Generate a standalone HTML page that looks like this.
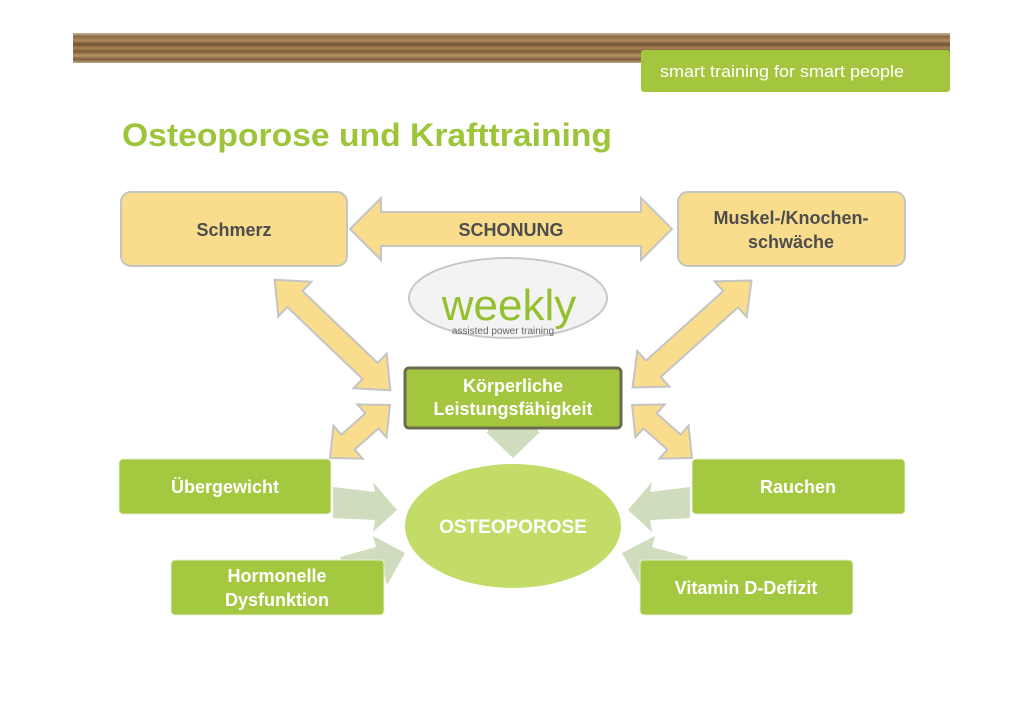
<!DOCTYPE html>
<html><head><meta charset="utf-8"><style>
html,body{margin:0;padding:0;background:#fff;}
svg{display:block;font-family:"Liberation Sans",sans-serif;}
</style></head><body>
<svg width="1024" height="723" viewBox="0 0 1024 723" xmlns="http://www.w3.org/2000/svg">
<defs>
<linearGradient id="wood" x1="0" y1="0" x2="0" y2="1">
<stop offset="0" stop-color="#c9b79a"/>
<stop offset="0.12" stop-color="#8a6a44"/>
<stop offset="0.25" stop-color="#b08a5c"/>
<stop offset="0.38" stop-color="#6e5233"/>
<stop offset="0.5" stop-color="#a98456"/>
<stop offset="0.62" stop-color="#7a5b38"/>
<stop offset="0.75" stop-color="#b99466"/>
<stop offset="0.88" stop-color="#7d5e3b"/>
<stop offset="1" stop-color="#c2a985"/>
</linearGradient>
</defs>
<rect x="73" y="33" width="877" height="30" fill="url(#wood)"/>
<rect x="641" y="50" width="309" height="42" rx="3" fill="#a3c63e"/>
<text x="660" y="77" font-size="17" fill="#fff" textLength="244" lengthAdjust="spacingAndGlyphs">smart training for smart people</text>
<text x="122" y="146" font-size="32" font-weight="bold" fill="#9dc53a" textLength="490" lengthAdjust="spacingAndGlyphs">Osteoporose und Krafttraining</text>

<!-- gray-green arrows -->
<g fill="#cfdcbd">
<polygon points="488,428 538,428 538,432 540,432 513,458 486,432 488,432"/>
<polygon points="333,487 375,492 373,482 397,510 373,532 375,520 333,518"/>
<polygon points="340,557 376,547 373,536 405,553 387,585 384,572 350,580"/>
<polygon points="690,487 650,492 652,482 628,510 652,532 650,520 690,518"/>
<polygon points="688,557 652,547 655,536 622,553 640,585 643,572 680,580"/>
</g>

<!-- yellow arrows -->
<g fill="#f9dd8c" stroke="#c4c4c4" stroke-width="2">
<polygon transform="translate(511,229)" points="-161,0 -130,-31 -130,-17 130,-17 130,-31 161,0 130,31 130,17 -130,17 -130,31"/>
<polygon transform="translate(332.5,335) rotate(43.7)" points="-80,0 -52,-24 -52,-11 52,-11 52,-24 80,0 52,24 52,11 -52,11 -52,24"/>
<polygon transform="translate(692,334) rotate(138)" points="-80,0 -52,-24 -52,-11 52,-11 52,-24 80,0 52,24 52,11 -52,11 -52,24"/>
<polygon transform="translate(360,431.5) rotate(-41.5)" points="-40,0 -16,-22 -16,-10 16,-10 16,-22 40,0 16,22 16,10 -16,10 -16,22"/>
<polygon transform="translate(662,431.5) rotate(41.5)" points="-40,0 -16,-22 -16,-10 16,-10 16,-22 40,0 16,22 16,10 -16,10 -16,22"/>
</g>
<text x="511" y="236" font-size="18" font-weight="bold" fill="#4d4d4d" text-anchor="middle">SCHONUNG</text>

<!-- top boxes -->
<rect x="121" y="192" width="226" height="74" rx="10" fill="#f9dd8c" stroke="#c4c4c4" stroke-width="2"/>
<text x="234" y="236" font-size="18" font-weight="bold" fill="#4d4d4d" text-anchor="middle">Schmerz</text>
<rect x="678" y="192" width="227" height="74" rx="10" fill="#f9dd8c" stroke="#c4c4c4" stroke-width="2"/>
<text x="791" y="224" font-size="18" font-weight="bold" fill="#4d4d4d" text-anchor="middle">Muskel-/Knochen-</text>
<text x="791" y="248" font-size="18" font-weight="bold" fill="#4d4d4d" text-anchor="middle">schwäche</text>

<!-- weekly -->
<ellipse cx="508" cy="298" rx="99" ry="40" fill="#f3f3f3" stroke="#c8c8c8" stroke-width="2"/>
<text x="509" y="320" font-size="44" fill="#94c030" text-anchor="middle">weekly</text>
<text x="503" y="334" font-size="10" fill="#666" text-anchor="middle">assisted power training</text>

<!-- Körperliche -->
<rect x="405" y="368" width="216" height="60" rx="4" fill="#a3c63e" stroke="#6b6b52" stroke-width="3"/>
<text x="513" y="392" font-size="18" font-weight="bold" fill="#fff" text-anchor="middle">Körperliche</text>
<text x="513" y="415" font-size="18" font-weight="bold" fill="#fff" text-anchor="middle">Leistungsfähigkeit</text>

<!-- osteoporose -->
<ellipse cx="513" cy="526" rx="108" ry="62" fill="#c3dc68"/>
<text x="513" y="533" font-size="19" font-weight="bold" fill="#fff" text-anchor="middle">OSTEOPOROSE</text>

<!-- green boxes -->
<g fill="#a4c840" stroke="#e8f0d0" stroke-width="1">
<rect x="119" y="459" width="212" height="55" rx="4"/>
<rect x="171" y="560" width="213" height="55" rx="4"/>
<rect x="692" y="459" width="213" height="55" rx="4"/>
<rect x="640" y="560" width="213" height="55" rx="4"/>
</g>
<g font-size="18" font-weight="bold" fill="#fff" text-anchor="middle">
<text x="225" y="493">Übergewicht</text>
<text x="277" y="582">Hormonelle</text>
<text x="277" y="606">Dysfunktion</text>
<text x="798" y="493">Rauchen</text>
<text x="746" y="594">Vitamin D-Defizit</text>
</g>
</svg>
</body></html>
